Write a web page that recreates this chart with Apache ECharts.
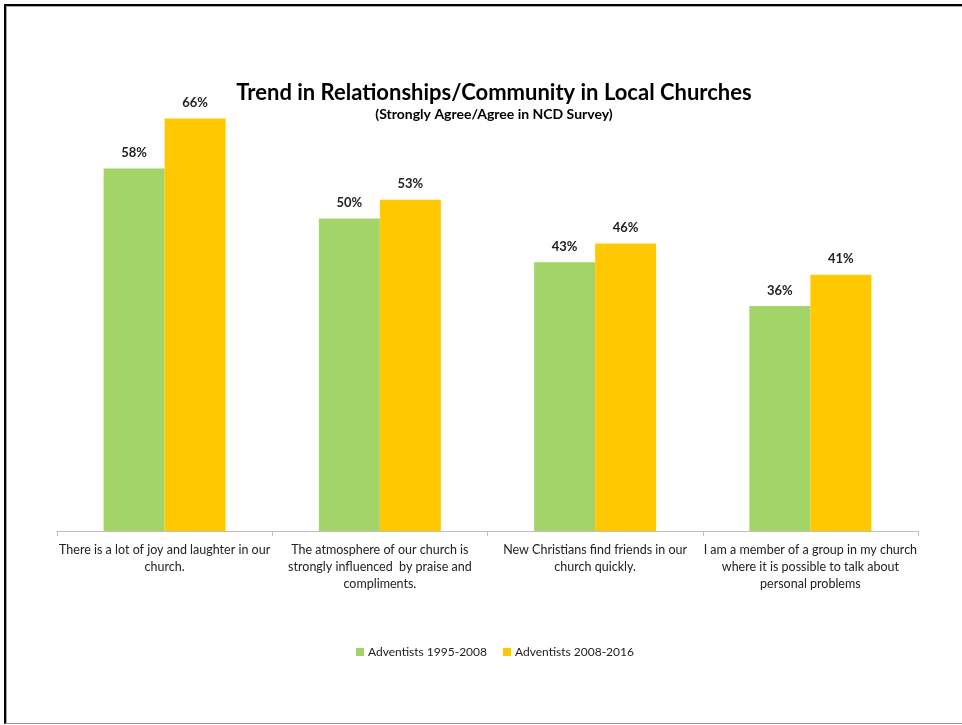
<!DOCTYPE html>
<html>
<head>
<meta charset="utf-8">
<script src="https://cdn.jsdelivr.net/npm/echarts@6/dist/echarts.min.js"></script>
<style>
  html, body { margin: 0; padding: 0; background: #fff; overflow: hidden; }
  #frame {
    position: absolute; left: 4px; top: 4px; width: 1000px; height: 717px;
    border-left: 2px solid #000; border-top: 2px solid #000;
    border-bottom: 1px solid #9a9a9a; box-shadow: 1px 1px 0 #aaa inset;
  }
  #chart { position: absolute; left: 0; top: 0; width: 962px; height: 725px; }
</style>
</head>
<body>
<div id="frame"></div>
<div id="chart"></div>
<script>
// Survey statements (wrapped as they appear under the axis)
const categories = [
  'There is a lot of joy and laughter in our\nchurch.',
  'The atmosphere of our church is\nstrongly influenced  by praise and\ncompliments.',
  'New Christians find friends in our\nchurch quickly.',
  'I am a member of a group in my church\nwhere it is possible to talk about\npersonal problems'
];
const seriesNames = ['Adventists 1995-2008', 'Adventists 2008-2016'];
const values1995 = [58, 50, 43, 36];
const values2008 = [66, 53, 46, 41];

const FONT = 'Lato, "Open Sans", sans-serif';
const chart = echarts.init(document.getElementById('chart'), null, { renderer: 'canvas' });

const labelStyle = {
  show: true,
  position: 'top',
  distance: 9,
  formatter: p => p.value + '%',
  fontFamily: FONT,
  fontWeight: 'bold',
  fontSize: 13,
  color: '#222'
};

chart.setOption({
  animation: false,
  title: {
    text: 'Trend in Relationships/Community in Local Churches',
    subtext: '(Strongly Agree/Agree in NCD Survey)',
    left: 489,
    textAlign: 'center',
    top: 77,
    itemGap: 3,
    textStyle: { fontFamily: FONT, fontWeight: 'bold', fontSize: 22, color: '#000' },
    subtextStyle: { fontFamily: FONT, fontWeight: 'bold', fontSize: 14, color: '#000' }
  },
  legend: {
    data: seriesNames,
    top: 641,
    left: 351,
    itemWidth: 8,
    itemHeight: 8,
    itemGap: 16,
    icon: 'rect',
    textStyle: { fontFamily: FONT, fontSize: 12, color: '#222', padding: [0, 0, 0, -1] }
  },
  grid: { left: 57, right: 44, top: 93.5, bottom: 194, containLabel: false },
  xAxis: {
    type: 'category',
    data: categories,
    axisLine: { lineStyle: { color: '#bfbfbf', width: 1 } },
    axisTick: { show: true, length: 5, lineStyle: { color: '#bfbfbf' } },
    axisLabel: {
      interval: 0,
      margin: 10,
      fontFamily: FONT,
      fontSize: 12.5,
      lineHeight: 17,
      color: '#222'
    }
  },
  yAxis: {
    type: 'value',
    min: 0,
    max: 70,
    show: false,
    splitLine: { show: false }
  },
  series: [
    {
      name: seriesNames[0],
      type: 'bar',
      data: values1995,
      barWidth: 61,
      barGap: '0%',
      itemStyle: { color: '#A3D468' },
      label: labelStyle
    },
    {
      name: seriesNames[1],
      type: 'bar',
      data: values2008,
      barWidth: 61,
      barGap: '0%',
      itemStyle: { color: '#FFC800' },
      label: labelStyle
    }
  ]
});
</script>
</body>
</html>
